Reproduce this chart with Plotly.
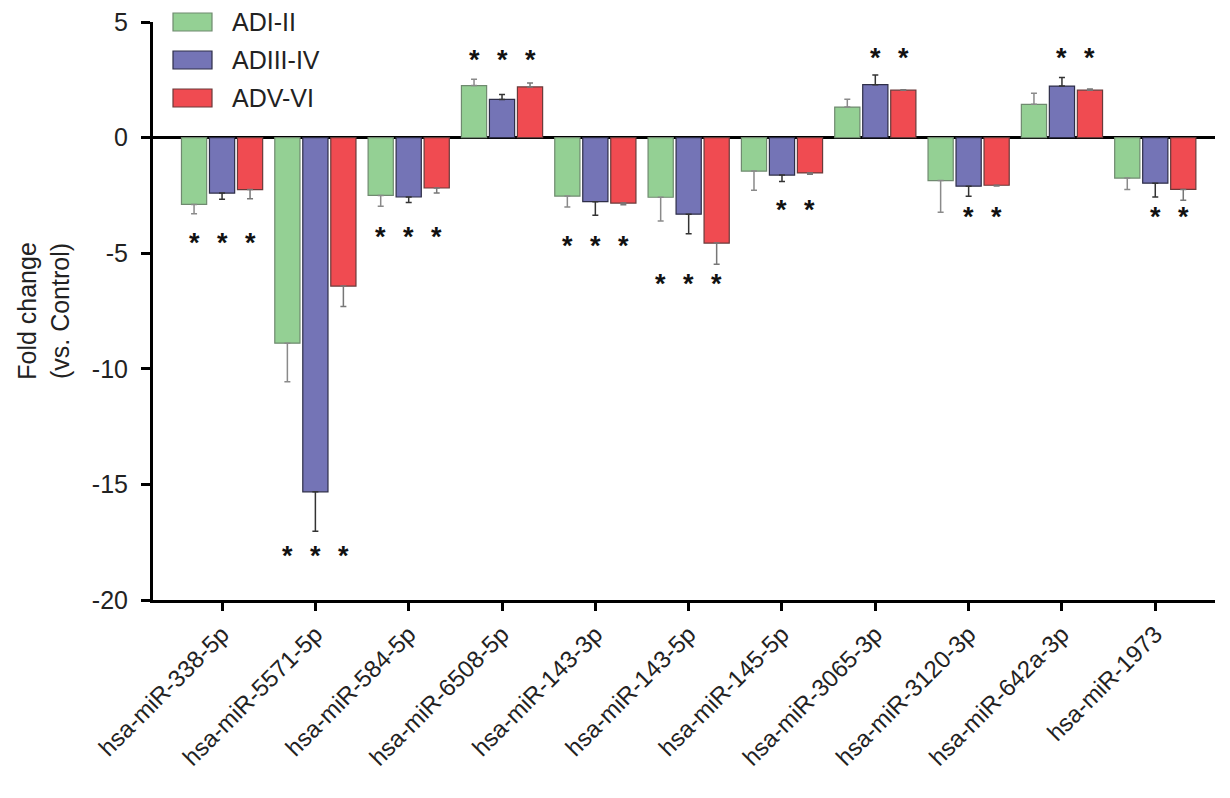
import plotly.graph_objects as go

categories = ["hsa-miR-338-5p", "hsa-miR-5571-5p", "hsa-miR-584-5p", "hsa-miR-6508-5p",
              "hsa-miR-143-3p", "hsa-miR-143-5p", "hsa-miR-145-5p", "hsa-miR-3065-3p",
              "hsa-miR-3120-3p", "hsa-miR-642a-3p", "hsa-miR-1973"]
series_names = ["ADI-II", "ADIII-IV", "ADV-VI"]

ad_i_ii = [-2.89, -8.89, -2.50, 2.25, -2.53, -2.58, -1.45, 1.32, -1.86, 1.44, -1.75]
ad_iii_iv = [-2.40, -15.32, -2.57, 1.65, -2.77, -3.31, -1.62, 2.29, -2.10, 2.23, -1.97]
ad_v_vi = [-2.25, -6.42, -2.18, 2.19, -2.83, -4.56, -1.53, 2.05, -2.06, 2.05, -2.24]

err_i_ii = [0.40, 1.67, 0.47, 0.27, 0.47, 1.03, 0.83, 0.34, 1.37, 0.48, 0.49]
err_iii_iv = [0.27, 1.71, 0.24, 0.21, 0.59, 0.85, 0.28, 0.42, 0.44, 0.37, 0.60]
err_v_vi = [0.39, 0.88, 0.22, 0.17, 0.07, 0.92, 0.06, 0.02, 0.03, 0.05, 0.47]

# y-position of significance asterisks (None = not significant)
star_i_ii = [-4.45, -17.95, -4.19, 3.49, -4.58, -6.21, None, None, None, None, None]
star_iii_iv = [-4.45, -17.95, -4.19, 3.49, -4.58, -6.21, -3.0, 3.56, -3.29, 3.56, -3.29]
star_v_vi = [-4.45, -17.95, -4.19, 3.49, -4.58, -6.21, -3.0, 3.56, -3.29, 3.56, -3.29]

y_ticks = [5, 0, -5, -10, -15, -20]

values = [ad_i_ii, ad_iii_iv, ad_v_vi]
errors = [err_i_ii, err_iii_iv, err_v_vi]
stars = [star_i_ii, star_iii_iv, star_v_vi]
fills = ["#94d094", "#7474b6", "#f04b51"]
outlines = ["#6f8a6f", "#2e2e48", "#6a3a3a"]
errcolors = ["#8a8a8a", "#333333", "#777777"]

FONT = "Liberation Sans, Arial, sans-serif"

# page body has an 8px default margin; figure sized so the plot lands where the reference has it
W, H = 1222, 790
ML, MR, MT, MB = 145, 15, 14, 198

fig = go.Figure()
for name, v, e, fc, oc, ec in zip(series_names, values, errors, fills, outlines, errcolors):
    up = [ee if vv > 0 else 0 for vv, ee in zip(v, e)]
    down = [ee if vv < 0 else 0 for vv, ee in zip(v, e)]
    fig.add_trace(go.Bar(
        name=name, x=categories, y=v,
        marker=dict(color=fc, line=dict(color=oc, width=1.2)),
        error_y=dict(type="data", symmetric=False, array=up, arrayminus=down,
                     color=ec, thickness=1.5, width=3),
        showlegend=False,
    ))

annotations = []
slot = 0.3
for k, st in enumerate(stars):
    for i, sy in enumerate(st):
        if sy is None:
            continue
        annotations.append(dict(x=i + (k - 1) * slot, y=sy, xref="x", yref="y",
                                text="*", showarrow=False, yshift=-3,
                                font=dict(family=FONT, size=27, color="#111", weight="bold")))

# custom legend (large swatches), positions in plot pixels from top-left of plot area
pw = W - ML - MR
ph = H - MT - MB
def paper_x(p):
    return p / pw
def paper_y(p):
    return 1 - p / ph

shapes = []
leg_tops = [-9, 29, 67]
for k, name in enumerate(series_names):
    t = leg_tops[k]
    shapes.append(dict(type="rect", xref="paper", yref="paper",
                       x0=paper_x(20), x1=paper_x(59), y0=paper_y(t + 18), y1=paper_y(t),
                       fillcolor=fills[k], line=dict(color=outlines[k], width=1.2)))
    annotations.append(dict(x=paper_x(77), y=paper_y(t + 9), xref="paper", yref="paper",
                            text=name, showarrow=False, xanchor="left", yanchor="middle",
                            font=dict(family=FONT, size=25, color="#222")))

fig.update_layout(
    width=W, height=H,
    margin=dict(l=ML, r=MR, t=MT, b=MB, autoexpand=False),
    paper_bgcolor="white", plot_bgcolor="white",
    barmode="group", bargap=0.1, bargroupgap=0.1,
    font=dict(family=FONT, size=24, color="#222"),
    annotations=annotations, shapes=shapes,
    xaxis=dict(range=[-0.74, 10.64], showline=True, linecolor="black", linewidth=2.5,
               ticks="outside", ticklen=8, tickwidth=2.5, tickcolor="black",
               tickangle=-45, tickfont=dict(family=FONT, size=24, color="#222"),
               showgrid=False, zeroline=False, automargin=False),
    yaxis=dict(range=[-20, 5], tickvals=y_ticks, ticktext=[str(t) for t in y_ticks],
               showline=True, linecolor="black", linewidth=3,
               ticks="outside", ticklen=9, tickwidth=2.5, tickcolor="black",
               ticklabeloverflow="allow", ticklabelstandoff=8, automargin=False,
               tickfont=dict(family=FONT, size=25, color="#222"),
               showgrid=False, zeroline=True, zerolinecolor="black", zerolinewidth=2.5,
               title=dict(text="Fold change<br>(vs. Control)", standoff=16,
                          font=dict(family=FONT, size=25, color="#222"))),
)

fig.write_html("out.html")
